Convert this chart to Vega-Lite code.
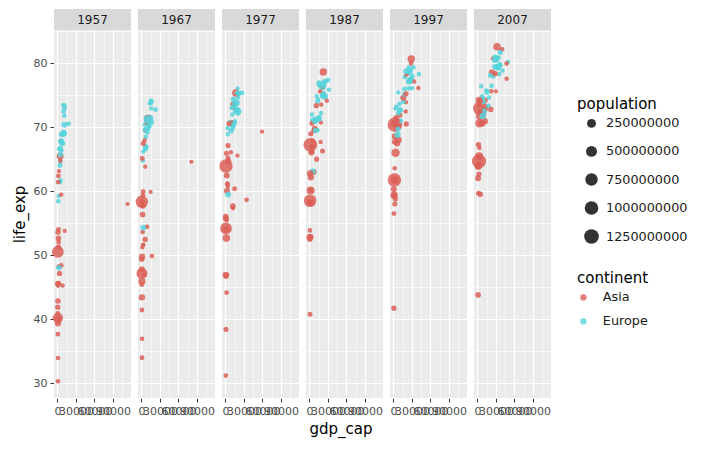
{
"$schema": "https://vega.github.io/schema/vega-lite/v6.json",
"background": "white",
"padding": {"left": 12, "top": 9, "right": 5, "bottom": 5},
"bounds": "flush",
"title": {"text": "gdp_cap", "orient": "bottom", "anchor": "middle", "fontSize": 15, "fontWeight": "normal", "color": "#000000", "offset": 6, "dx": -9},
"config": {
  "font": "DejaVu Sans",
  "view": {"fill": "#EBEBEB", "stroke": null},
  "axis": {"domain": false, "tickColor": "#333333", "tickSize": 4, "tickWidth": 1, "labelColor": "#4D4D4D", "labelFontSize": 11, "labelPadding": 3, "titleFontSize": 15, "titleFontWeight": "normal", "titleColor": "#000000", "gridColor": "#FFFFFF"},
  "legend": {"titleFontSize": 15, "titleFontWeight": "normal", "titleColor": "#000000", "labelFontSize": 12.8, "labelColor": "#1A1A1A"}
},
"data": {"values": [
{"year":1957,"continent":"Asia","life_exp":30.33,"gdp_cap":821,"population":9240934},
{"year":1967,"continent":"Asia","life_exp":34.02,"gdp_cap":836,"population":11537966},
{"year":1977,"continent":"Asia","life_exp":38.44,"gdp_cap":786,"population":14880372},
{"year":1987,"continent":"Asia","life_exp":40.82,"gdp_cap":852,"population":13867957},
{"year":1997,"continent":"Asia","life_exp":41.76,"gdp_cap":635,"population":22227415},
{"year":2007,"continent":"Asia","life_exp":43.83,"gdp_cap":975,"population":31889923},
{"year":1957,"continent":"Europe","life_exp":59.28,"gdp_cap":1942,"population":1476505},
{"year":1967,"continent":"Europe","life_exp":66.22,"gdp_cap":2760,"population":1984060},
{"year":1977,"continent":"Europe","life_exp":68.93,"gdp_cap":3533,"population":2509048},
{"year":1987,"continent":"Europe","life_exp":72.0,"gdp_cap":3739,"population":3075321},
{"year":1997,"continent":"Europe","life_exp":72.95,"gdp_cap":3193,"population":3428038},
{"year":2007,"continent":"Europe","life_exp":76.42,"gdp_cap":5937,"population":3600523},
{"year":1957,"continent":"Europe","life_exp":67.48,"gdp_cap":8843,"population":6965860},
{"year":1967,"continent":"Europe","life_exp":70.14,"gdp_cap":12835,"population":7376998},
{"year":1977,"continent":"Europe","life_exp":72.17,"gdp_cap":19749,"population":7568430},
{"year":1987,"continent":"Europe","life_exp":74.94,"gdp_cap":23688,"population":7578903},
{"year":1997,"continent":"Europe","life_exp":77.51,"gdp_cap":29096,"population":8069876},
{"year":2007,"continent":"Europe","life_exp":79.83,"gdp_cap":36126,"population":8199783},
{"year":1957,"continent":"Asia","life_exp":53.83,"gdp_cap":11636,"population":138655},
{"year":1967,"continent":"Asia","life_exp":59.92,"gdp_cap":14805,"population":191540},
{"year":1977,"continent":"Asia","life_exp":65.59,"gdp_cap":19340,"population":297410},
{"year":1987,"continent":"Asia","life_exp":70.75,"gdp_cap":18524,"population":454612},
{"year":1997,"continent":"Asia","life_exp":73.93,"gdp_cap":20292,"population":598561},
{"year":2007,"continent":"Asia","life_exp":75.64,"gdp_cap":29796,"population":708573},
{"year":1957,"continent":"Asia","life_exp":39.35,"gdp_cap":662,"population":51365468},
{"year":1967,"continent":"Asia","life_exp":43.45,"gdp_cap":721,"population":62821884},
{"year":1977,"continent":"Asia","life_exp":46.92,"gdp_cap":660,"population":80428306},
{"year":1987,"continent":"Asia","life_exp":52.82,"gdp_cap":752,"population":103764241},
{"year":1997,"continent":"Asia","life_exp":59.41,"gdp_cap":973,"population":123315288},
{"year":2007,"continent":"Asia","life_exp":64.06,"gdp_cap":1391,"population":150448339},
{"year":1957,"continent":"Europe","life_exp":69.24,"gdp_cap":9715,"population":8989111},
{"year":1967,"continent":"Europe","life_exp":70.94,"gdp_cap":13149,"population":9556500},
{"year":1977,"continent":"Europe","life_exp":72.8,"gdp_cap":19118,"population":9821800},
{"year":1987,"continent":"Europe","life_exp":75.35,"gdp_cap":22526,"population":9870200},
{"year":1997,"continent":"Europe","life_exp":77.53,"gdp_cap":27561,"population":10199787},
{"year":2007,"continent":"Europe","life_exp":79.44,"gdp_cap":33693,"population":10392226},
{"year":1957,"continent":"Europe","life_exp":58.45,"gdp_cap":1354,"population":3076000},
{"year":1967,"continent":"Europe","life_exp":64.79,"gdp_cap":2172,"population":3585000},
{"year":1977,"continent":"Europe","life_exp":69.86,"gdp_cap":3528,"population":4086000},
{"year":1987,"continent":"Europe","life_exp":71.14,"gdp_cap":4314,"population":4338977},
{"year":1997,"continent":"Europe","life_exp":73.24,"gdp_cap":4766,"population":3607000},
{"year":2007,"continent":"Europe","life_exp":74.85,"gdp_cap":7446,"population":4552198},
{"year":1957,"continent":"Europe","life_exp":66.61,"gdp_cap":3009,"population":7651254},
{"year":1967,"continent":"Europe","life_exp":70.42,"gdp_cap":5577,"population":8310226},
{"year":1977,"continent":"Europe","life_exp":70.81,"gdp_cap":7612,"population":8797022},
{"year":1987,"continent":"Europe","life_exp":71.34,"gdp_cap":8240,"population":8971958},
{"year":1997,"continent":"Europe","life_exp":70.32,"gdp_cap":5970,"population":8066057},
{"year":2007,"continent":"Europe","life_exp":73.01,"gdp_cap":10681,"population":7322858},
{"year":1957,"continent":"Asia","life_exp":40.96,"gdp_cap":434,"population":5322536},
{"year":1967,"continent":"Asia","life_exp":45.42,"gdp_cap":523,"population":6960067},
{"year":1977,"continent":"Asia","life_exp":31.22,"gdp_cap":525,"population":6978607},
{"year":1987,"continent":"Asia","life_exp":53.91,"gdp_cap":684,"population":8371791},
{"year":1997,"continent":"Asia","life_exp":56.53,"gdp_cap":734,"population":11782962},
{"year":2007,"continent":"Asia","life_exp":59.72,"gdp_cap":1714,"population":14131858},
{"year":1957,"continent":"Asia","life_exp":50.55,"gdp_cap":576,"population":637408000},
{"year":1967,"continent":"Asia","life_exp":58.38,"gdp_cap":613,"population":754550000},
{"year":1977,"continent":"Asia","life_exp":63.97,"gdp_cap":741,"population":943455000},
{"year":1987,"continent":"Asia","life_exp":67.27,"gdp_cap":1379,"population":1084035000},
{"year":1997,"continent":"Asia","life_exp":70.43,"gdp_cap":2289,"population":1230075000},
{"year":2007,"continent":"Asia","life_exp":72.96,"gdp_cap":4959,"population":1318683096},
{"year":1957,"continent":"Europe","life_exp":64.77,"gdp_cap":4338,"population":3991242},
{"year":1967,"continent":"Europe","life_exp":68.5,"gdp_cap":6960,"population":4174366},
{"year":1977,"continent":"Europe","life_exp":70.64,"gdp_cap":11305,"population":4318673},
{"year":1987,"continent":"Europe","life_exp":71.52,"gdp_cap":13823,"population":4484310},
{"year":1997,"continent":"Europe","life_exp":73.68,"gdp_cap":9876,"population":4444595},
{"year":2007,"continent":"Europe","life_exp":75.75,"gdp_cap":14619,"population":4493312},
{"year":1957,"continent":"Europe","life_exp":69.03,"gdp_cap":8256,"population":9513758},
{"year":1967,"continent":"Europe","life_exp":70.38,"gdp_cap":11399,"population":9835109},
{"year":1977,"continent":"Europe","life_exp":70.71,"gdp_cap":14800,"population":10161915},
{"year":1987,"continent":"Europe","life_exp":71.58,"gdp_cap":16310,"population":10311597},
{"year":1997,"continent":"Europe","life_exp":74.01,"gdp_cap":16049,"population":10300707},
{"year":2007,"continent":"Europe","life_exp":76.49,"gdp_cap":22833,"population":10228744},
{"year":1957,"continent":"Europe","life_exp":71.81,"gdp_cap":11100,"population":4487831},
{"year":1967,"continent":"Europe","life_exp":72.96,"gdp_cap":15937,"population":4838800},
{"year":1977,"continent":"Europe","life_exp":74.69,"gdp_cap":20423,"population":5088419},
{"year":1987,"continent":"Europe","life_exp":74.8,"gdp_cap":25116,"population":5127024},
{"year":1997,"continent":"Europe","life_exp":76.11,"gdp_cap":29804,"population":5283663},
{"year":2007,"continent":"Europe","life_exp":78.33,"gdp_cap":35278,"population":5468120},
{"year":1957,"continent":"Europe","life_exp":67.49,"gdp_cap":7545,"population":4324000},
{"year":1967,"continent":"Europe","life_exp":69.83,"gdp_cap":10922,"population":4605744},
{"year":1977,"continent":"Europe","life_exp":72.52,"gdp_cap":15605,"population":4738902},
{"year":1987,"continent":"Europe","life_exp":74.83,"gdp_cap":21141,"population":4931729},
{"year":1997,"continent":"Europe","life_exp":77.13,"gdp_cap":23724,"population":5134406},
{"year":2007,"continent":"Europe","life_exp":79.31,"gdp_cap":33207,"population":5238460},
{"year":1957,"continent":"Europe","life_exp":68.93,"gdp_cap":8663,"population":44310863},
{"year":1967,"continent":"Europe","life_exp":71.55,"gdp_cap":13000,"population":49937038},
{"year":1977,"continent":"Europe","life_exp":73.83,"gdp_cap":18293,"population":53165019},
{"year":1987,"continent":"Europe","life_exp":76.34,"gdp_cap":22066,"population":55630100},
{"year":1997,"continent":"Europe","life_exp":78.64,"gdp_cap":25890,"population":58623428},
{"year":2007,"continent":"Europe","life_exp":80.66,"gdp_cap":30470,"population":61083916},
{"year":1957,"continent":"Europe","life_exp":69.1,"gdp_cap":10188,"population":71019069},
{"year":1967,"continent":"Europe","life_exp":70.8,"gdp_cap":14746,"population":76368453},
{"year":1977,"continent":"Europe","life_exp":72.5,"gdp_cap":20513,"population":78160773},
{"year":1987,"continent":"Europe","life_exp":74.85,"gdp_cap":24639,"population":77718298},
{"year":1997,"continent":"Europe","life_exp":77.34,"gdp_cap":27789,"population":82011073},
{"year":2007,"continent":"Europe","life_exp":79.41,"gdp_cap":32170,"population":82400996},
{"year":1957,"continent":"Europe","life_exp":67.86,"gdp_cap":4916,"population":8096218},
{"year":1967,"continent":"Europe","life_exp":71.0,"gdp_cap":8513,"population":8716441},
{"year":1977,"continent":"Europe","life_exp":73.68,"gdp_cap":14196,"population":9308479},
{"year":1987,"continent":"Europe","life_exp":76.67,"gdp_cap":16121,"population":9974490},
{"year":1997,"continent":"Europe","life_exp":77.87,"gdp_cap":18748,"population":10502372},
{"year":2007,"continent":"Europe","life_exp":79.48,"gdp_cap":27538,"population":10706290},
{"year":1957,"continent":"Asia","life_exp":64.75,"gdp_cap":4629,"population":2736300},
{"year":1967,"continent":"Asia","life_exp":69.5,"gdp_cap":6198,"population":3722800},
{"year":1977,"continent":"Asia","life_exp":73.6,"gdp_cap":11186,"population":4583700},
{"year":1987,"continent":"Asia","life_exp":76.2,"gdp_cap":20038,"population":5584510},
{"year":1997,"continent":"Asia","life_exp":80.0,"gdp_cap":28378,"population":6495918},
{"year":2007,"continent":"Asia","life_exp":82.21,"gdp_cap":39725,"population":6980412},
{"year":1957,"continent":"Europe","life_exp":66.41,"gdp_cap":6040,"population":9839000},
{"year":1967,"continent":"Europe","life_exp":69.5,"gdp_cap":9327,"population":10223422},
{"year":1977,"continent":"Europe","life_exp":69.95,"gdp_cap":11675,"population":10637171},
{"year":1987,"continent":"Europe","life_exp":69.58,"gdp_cap":12986,"population":10612740},
{"year":1997,"continent":"Europe","life_exp":71.04,"gdp_cap":11713,"population":10244684},
{"year":2007,"continent":"Europe","life_exp":73.34,"gdp_cap":18009,"population":9956108},
{"year":1957,"continent":"Europe","life_exp":73.47,"gdp_cap":9244,"population":165110},
{"year":1967,"continent":"Europe","life_exp":73.73,"gdp_cap":13320,"population":198676},
{"year":1977,"continent":"Europe","life_exp":76.11,"gdp_cap":19655,"population":221823},
{"year":1987,"continent":"Europe","life_exp":77.23,"gdp_cap":26923,"population":244676},
{"year":1997,"continent":"Europe","life_exp":78.95,"gdp_cap":28061,"population":271192},
{"year":2007,"continent":"Europe","life_exp":81.76,"gdp_cap":36181,"population":301931},
{"year":1957,"continent":"Asia","life_exp":40.25,"gdp_cap":590,"population":409000000},
{"year":1967,"continent":"Asia","life_exp":47.19,"gdp_cap":701,"population":506000000},
{"year":1977,"continent":"Asia","life_exp":54.21,"gdp_cap":813,"population":634000000},
{"year":1987,"continent":"Asia","life_exp":58.55,"gdp_cap":977,"population":788000000},
{"year":1997,"continent":"Asia","life_exp":61.77,"gdp_cap":1459,"population":959000000},
{"year":2007,"continent":"Asia","life_exp":64.7,"gdp_cap":2452,"population":1110396331},
{"year":1957,"continent":"Asia","life_exp":39.92,"gdp_cap":859,"population":90124000},
{"year":1967,"continent":"Asia","life_exp":45.96,"gdp_cap":762,"population":109343000},
{"year":1977,"continent":"Asia","life_exp":52.7,"gdp_cap":1383,"population":136725000},
{"year":1987,"continent":"Asia","life_exp":60.14,"gdp_cap":1748,"population":169276000},
{"year":1997,"continent":"Asia","life_exp":66.04,"gdp_cap":3339,"population":199278000},
{"year":2007,"continent":"Asia","life_exp":70.65,"gdp_cap":3541,"population":223547000},
{"year":1957,"continent":"Asia","life_exp":47.18,"gdp_cap":3290,"population":19792000},
{"year":1967,"continent":"Asia","life_exp":52.47,"gdp_cap":5907,"population":26538000},
{"year":1977,"continent":"Asia","life_exp":57.7,"gdp_cap":11889,"population":35480679},
{"year":1987,"continent":"Asia","life_exp":63.04,"gdp_cap":6643,"population":51889696},
{"year":1997,"continent":"Asia","life_exp":68.04,"gdp_cap":8264,"population":63327987},
{"year":2007,"continent":"Asia","life_exp":70.96,"gdp_cap":11606,"population":69453570},
{"year":1957,"continent":"Asia","life_exp":48.44,"gdp_cap":6229,"population":6248643},
{"year":1967,"continent":"Asia","life_exp":54.46,"gdp_cap":8931,"population":8519282},
{"year":1977,"continent":"Asia","life_exp":60.41,"gdp_cap":14688,"population":11882916},
{"year":1987,"continent":"Asia","life_exp":65.04,"gdp_cap":11644,"population":16543189},
{"year":1997,"continent":"Asia","life_exp":58.81,"gdp_cap":3076,"population":20775703},
{"year":2007,"continent":"Asia","life_exp":59.55,"gdp_cap":4471,"population":27499638},
{"year":1957,"continent":"Europe","life_exp":68.9,"gdp_cap":5599,"population":2878220},
{"year":1967,"continent":"Europe","life_exp":71.08,"gdp_cap":7656,"population":2900100},
{"year":1977,"continent":"Europe","life_exp":72.03,"gdp_cap":11151,"population":3271900},
{"year":1987,"continent":"Europe","life_exp":74.36,"gdp_cap":13873,"population":3539900},
{"year":1997,"continent":"Europe","life_exp":76.12,"gdp_cap":24522,"population":3667233},
{"year":2007,"continent":"Europe","life_exp":78.89,"gdp_cap":40676,"population":4109086},
{"year":1957,"continent":"Asia","life_exp":67.84,"gdp_cap":5385,"population":1944401},
{"year":1967,"continent":"Asia","life_exp":70.75,"gdp_cap":8394,"population":2693585},
{"year":1977,"continent":"Asia","life_exp":73.06,"gdp_cap":13307,"population":3495918},
{"year":1987,"continent":"Asia","life_exp":75.6,"gdp_cap":17122,"population":4203148},
{"year":1997,"continent":"Asia","life_exp":78.27,"gdp_cap":20897,"population":5531387},
{"year":2007,"continent":"Asia","life_exp":80.75,"gdp_cap":25523,"population":6426679},
{"year":1957,"continent":"Europe","life_exp":67.81,"gdp_cap":6249,"population":49182000},
{"year":1967,"continent":"Europe","life_exp":71.06,"gdp_cap":10022,"population":52667100},
{"year":1977,"continent":"Europe","life_exp":73.48,"gdp_cap":14256,"population":56059245},
{"year":1987,"continent":"Europe","life_exp":76.42,"gdp_cap":19207,"population":56729703},
{"year":1997,"continent":"Europe","life_exp":78.82,"gdp_cap":24675,"population":57479469},
{"year":2007,"continent":"Europe","life_exp":80.55,"gdp_cap":28570,"population":58147733},
{"year":1957,"continent":"Asia","life_exp":65.5,"gdp_cap":4318,"population":91563009},
{"year":1967,"continent":"Asia","life_exp":71.43,"gdp_cap":9848,"population":100825279},
{"year":1977,"continent":"Asia","life_exp":75.38,"gdp_cap":16610,"population":113872473},
{"year":1987,"continent":"Asia","life_exp":78.67,"gdp_cap":22376,"population":122091325},
{"year":1997,"continent":"Asia","life_exp":80.69,"gdp_cap":28817,"population":125956499},
{"year":2007,"continent":"Asia","life_exp":82.6,"gdp_cap":31656,"population":127467972},
{"year":1957,"continent":"Asia","life_exp":45.67,"gdp_cap":1886,"population":746559},
{"year":1967,"continent":"Asia","life_exp":51.63,"gdp_cap":2742,"population":1255058},
{"year":1977,"continent":"Asia","life_exp":61.13,"gdp_cap":2852,"population":1937652},
{"year":1987,"continent":"Asia","life_exp":66.24,"gdp_cap":4449,"population":2820042},
{"year":1997,"continent":"Asia","life_exp":69.77,"gdp_cap":3645,"population":4526235},
{"year":2007,"continent":"Asia","life_exp":72.54,"gdp_cap":4519,"population":6053193},
{"year":1957,"continent":"Asia","life_exp":54.08,"gdp_cap":1576,"population":9411381},
{"year":1967,"continent":"Asia","life_exp":59.94,"gdp_cap":2621,"population":12617009},
{"year":1977,"continent":"Asia","life_exp":67.16,"gdp_cap":4106,"population":16325320},
{"year":1987,"continent":"Asia","life_exp":70.65,"gdp_cap":4107,"population":19067554},
{"year":1997,"continent":"Asia","life_exp":67.73,"gdp_cap":1691,"population":21585105},
{"year":2007,"continent":"Asia","life_exp":67.3,"gdp_cap":1593,"population":23301725},
{"year":1957,"continent":"Asia","life_exp":52.68,"gdp_cap":1488,"population":22611552},
{"year":1967,"continent":"Asia","life_exp":57.72,"gdp_cap":2029,"population":29335000},
{"year":1977,"continent":"Asia","life_exp":64.77,"gdp_cap":4657,"population":36436000},
{"year":1987,"continent":"Asia","life_exp":69.81,"gdp_cap":8533,"population":41622000},
{"year":1997,"continent":"Asia","life_exp":74.65,"gdp_cap":15994,"population":46173816},
{"year":2007,"continent":"Asia","life_exp":78.62,"gdp_cap":23348,"population":49044790},
{"year":1957,"continent":"Asia","life_exp":58.03,"gdp_cap":113523,"population":212846},
{"year":1967,"continent":"Asia","life_exp":64.62,"gdp_cap":80895,"population":575003},
{"year":1977,"continent":"Asia","life_exp":69.34,"gdp_cap":59265,"population":1140357},
{"year":1987,"continent":"Asia","life_exp":74.17,"gdp_cap":28118,"population":1891487},
{"year":1997,"continent":"Asia","life_exp":76.16,"gdp_cap":40301,"population":1765345},
{"year":2007,"continent":"Asia","life_exp":77.59,"gdp_cap":47307,"population":2505559},
{"year":1957,"continent":"Asia","life_exp":59.49,"gdp_cap":6090,"population":1647412},
{"year":1967,"continent":"Asia","life_exp":63.87,"gdp_cap":6007,"population":2186894},
{"year":1977,"continent":"Asia","life_exp":66.1,"gdp_cap":8660,"population":3115787},
{"year":1987,"continent":"Asia","life_exp":67.93,"gdp_cap":5377,"population":3089353},
{"year":1997,"continent":"Asia","life_exp":70.27,"gdp_cap":8755,"population":3430388},
{"year":2007,"continent":"Asia","life_exp":71.99,"gdp_cap":10461,"population":3921278},
{"year":1957,"continent":"Asia","life_exp":52.1,"gdp_cap":1810,"population":7739235},
{"year":1967,"continent":"Asia","life_exp":59.37,"gdp_cap":2278,"population":10154878},
{"year":1977,"continent":"Asia","life_exp":65.26,"gdp_cap":3828,"population":12845381},
{"year":1987,"continent":"Asia","life_exp":69.5,"gdp_cap":7299,"population":16331785},
{"year":1997,"continent":"Asia","life_exp":71.94,"gdp_cap":10133,"population":21517880},
{"year":2007,"continent":"Asia","life_exp":74.24,"gdp_cap":12452,"population":24821286},
{"year":1957,"continent":"Asia","life_exp":45.25,"gdp_cap":913,"population":882134},
{"year":1967,"continent":"Asia","life_exp":51.25,"gdp_cap":1226,"population":1149500},
{"year":1977,"continent":"Asia","life_exp":55.49,"gdp_cap":1648,"population":1528000},
{"year":1987,"continent":"Asia","life_exp":60.22,"gdp_cap":2338,"population":2015133},
{"year":1997,"continent":"Asia","life_exp":63.63,"gdp_cap":1902,"population":2494803},
{"year":2007,"continent":"Asia","life_exp":66.8,"gdp_cap":3096,"population":2874127},
{"year":1957,"continent":"Europe","life_exp":61.45,"gdp_cap":3682,"population":442829},
{"year":1967,"continent":"Europe","life_exp":67.18,"gdp_cap":5908,"population":501035},
{"year":1977,"continent":"Europe","life_exp":73.07,"gdp_cap":9596,"population":560073},
{"year":1987,"continent":"Europe","life_exp":74.87,"gdp_cap":11733,"population":607173},
{"year":1997,"continent":"Europe","life_exp":75.45,"gdp_cap":7778,"population":692651},
{"year":2007,"continent":"Europe","life_exp":74.54,"gdp_cap":9254,"population":684736},
{"year":1957,"continent":"Asia","life_exp":41.91,"gdp_cap":350,"population":21731844},
{"year":1967,"continent":"Asia","life_exp":49.38,"gdp_cap":349,"population":25870271},
{"year":1977,"continent":"Asia","life_exp":56.06,"gdp_cap":371,"population":31528087},
{"year":1987,"continent":"Asia","life_exp":58.34,"gdp_cap":385,"population":38028578},
{"year":1997,"continent":"Asia","life_exp":60.33,"gdp_cap":415,"population":43247867},
{"year":2007,"continent":"Asia","life_exp":62.07,"gdp_cap":944,"population":47761980},
{"year":1957,"continent":"Asia","life_exp":37.69,"gdp_cap":598,"population":9682338},
{"year":1967,"continent":"Asia","life_exp":41.47,"gdp_cap":676,"population":11261690},
{"year":1977,"continent":"Asia","life_exp":46.75,"gdp_cap":694,"population":13933198},
{"year":1987,"continent":"Asia","life_exp":52.54,"gdp_cap":776,"population":17917180},
{"year":1997,"continent":"Asia","life_exp":59.43,"gdp_cap":1011,"population":23001113},
{"year":2007,"continent":"Asia","life_exp":63.79,"gdp_cap":1091,"population":28901790},
{"year":1957,"continent":"Europe","life_exp":72.99,"gdp_cap":11276,"population":11026383},
{"year":1967,"continent":"Europe","life_exp":73.82,"gdp_cap":15363,"population":12596822},
{"year":1977,"continent":"Europe","life_exp":75.24,"gdp_cap":21209,"population":13852989},
{"year":1987,"continent":"Europe","life_exp":76.83,"gdp_cap":23651,"population":14665278},
{"year":1997,"continent":"Europe","life_exp":78.03,"gdp_cap":30246,"population":15604464},
{"year":2007,"continent":"Europe","life_exp":79.76,"gdp_cap":36798,"population":16570613},
{"year":1957,"continent":"Europe","life_exp":73.44,"gdp_cap":11654,"population":3491938},
{"year":1967,"continent":"Europe","life_exp":74.08,"gdp_cap":16362,"population":3786019},
{"year":1977,"continent":"Europe","life_exp":75.37,"gdp_cap":23311,"population":4043205},
{"year":1987,"continent":"Europe","life_exp":75.89,"gdp_cap":31541,"population":4186147},
{"year":1997,"continent":"Europe","life_exp":78.32,"gdp_cap":41283,"population":4405672},
{"year":2007,"continent":"Europe","life_exp":80.2,"gdp_cap":49357,"population":4627926},
{"year":1957,"continent":"Asia","life_exp":40.08,"gdp_cap":2243,"population":561977},
{"year":1967,"continent":"Asia","life_exp":46.99,"gdp_cap":4721,"population":714775},
{"year":1977,"continent":"Asia","life_exp":57.37,"gdp_cap":12139,"population":1004533},
{"year":1987,"continent":"Asia","life_exp":67.73,"gdp_cap":18115,"population":1593882},
{"year":1997,"continent":"Asia","life_exp":72.5,"gdp_cap":19702,"population":2283635},
{"year":2007,"continent":"Asia","life_exp":75.64,"gdp_cap":22316,"population":3204897},
{"year":1957,"continent":"Asia","life_exp":45.56,"gdp_cap":747,"population":46679944},
{"year":1967,"continent":"Asia","life_exp":49.8,"gdp_cap":942,"population":60641899},
{"year":1977,"continent":"Asia","life_exp":54.04,"gdp_cap":1176,"population":78152686},
{"year":1987,"continent":"Asia","life_exp":58.25,"gdp_cap":1705,"population":105186881},
{"year":1997,"continent":"Asia","life_exp":61.82,"gdp_cap":2049,"population":135564834},
{"year":2007,"continent":"Asia","life_exp":65.48,"gdp_cap":2606,"population":169270617},
{"year":1957,"continent":"Asia","life_exp":51.33,"gdp_cap":1548,"population":26072194},
{"year":1967,"continent":"Asia","life_exp":56.39,"gdp_cap":1814,"population":35356600},
{"year":1977,"continent":"Asia","life_exp":60.06,"gdp_cap":2373,"population":46850962},
{"year":1987,"continent":"Asia","life_exp":62.21,"gdp_cap":2190,"population":60017788},
{"year":1997,"continent":"Asia","life_exp":68.56,"gdp_cap":2537,"population":75012988},
{"year":2007,"continent":"Asia","life_exp":71.69,"gdp_cap":3190,"population":91077287},
{"year":1957,"continent":"Europe","life_exp":65.77,"gdp_cap":4734,"population":28235346},
{"year":1967,"continent":"Europe","life_exp":69.61,"gdp_cap":6557,"population":31785378},
{"year":1977,"continent":"Europe","life_exp":70.67,"gdp_cap":9508,"population":34621254},
{"year":1987,"continent":"Europe","life_exp":70.98,"gdp_cap":9082,"population":37740710},
{"year":1997,"continent":"Europe","life_exp":72.75,"gdp_cap":10160,"population":38654957},
{"year":2007,"continent":"Europe","life_exp":75.56,"gdp_cap":15390,"population":38518241},
{"year":1957,"continent":"Europe","life_exp":61.51,"gdp_cap":3775,"population":8817650},
{"year":1967,"continent":"Europe","life_exp":66.6,"gdp_cap":6362,"population":9103000},
{"year":1977,"continent":"Europe","life_exp":70.41,"gdp_cap":10172,"population":9662600},
{"year":1987,"continent":"Europe","life_exp":74.06,"gdp_cap":13039,"population":9915289},
{"year":1997,"continent":"Europe","life_exp":75.97,"gdp_cap":17641,"population":10156415},
{"year":2007,"continent":"Europe","life_exp":78.1,"gdp_cap":20510,"population":10642836},
{"year":1957,"continent":"Europe","life_exp":64.1,"gdp_cap":3943,"population":17829327},
{"year":1967,"continent":"Europe","life_exp":66.8,"gdp_cap":6471,"population":19284814},
{"year":1977,"continent":"Europe","life_exp":69.46,"gdp_cap":9356,"population":21658597},
{"year":1987,"continent":"Europe","life_exp":69.53,"gdp_cap":9696,"population":22686371},
{"year":1997,"continent":"Europe","life_exp":69.72,"gdp_cap":7347,"population":22562458},
{"year":2007,"continent":"Europe","life_exp":72.48,"gdp_cap":10808,"population":22276056},
{"year":1957,"continent":"Asia","life_exp":45.29,"gdp_cap":8158,"population":4419650},
{"year":1967,"continent":"Asia","life_exp":49.9,"gdp_cap":16903,"population":5618198},
{"year":1977,"continent":"Asia","life_exp":58.69,"gdp_cap":34168,"population":8128505},
{"year":1987,"continent":"Asia","life_exp":66.3,"gdp_cap":21198,"population":14619745},
{"year":1997,"continent":"Asia","life_exp":70.53,"gdp_cap":20587,"population":21229759},
{"year":2007,"continent":"Asia","life_exp":72.78,"gdp_cap":21655,"population":27601038},
{"year":1957,"continent":"Europe","life_exp":61.69,"gdp_cap":4981,"population":7271135},
{"year":1967,"continent":"Europe","life_exp":66.91,"gdp_cap":7992,"population":8143375},
{"year":1977,"continent":"Europe","life_exp":70.3,"gdp_cap":12981,"population":8686367},
{"year":1987,"continent":"Europe","life_exp":71.22,"gdp_cap":15871,"population":9230783},
{"year":1997,"continent":"Europe","life_exp":72.23,"gdp_cap":7914,"population":10336594},
{"year":2007,"continent":"Europe","life_exp":74.0,"gdp_cap":9787,"population":10150265},
{"year":1957,"continent":"Asia","life_exp":63.18,"gdp_cap":2315,"population":1445929},
{"year":1967,"continent":"Asia","life_exp":67.95,"gdp_cap":4977,"population":1977600},
{"year":1977,"continent":"Asia","life_exp":70.8,"gdp_cap":11210,"population":2325300},
{"year":1987,"continent":"Asia","life_exp":73.56,"gdp_cap":18862,"population":2794552},
{"year":1997,"continent":"Asia","life_exp":77.16,"gdp_cap":33519,"population":3802309},
{"year":2007,"continent":"Asia","life_exp":79.97,"gdp_cap":47143,"population":4553009},
{"year":1957,"continent":"Europe","life_exp":67.45,"gdp_cap":6093,"population":3844277},
{"year":1967,"continent":"Europe","life_exp":70.98,"gdp_cap":8413,"population":4442238},
{"year":1977,"continent":"Europe","life_exp":70.45,"gdp_cap":10923,"population":4827803},
{"year":1987,"continent":"Europe","life_exp":71.08,"gdp_cap":12037,"population":5199318},
{"year":1997,"continent":"Europe","life_exp":72.71,"gdp_cap":12126,"population":5383010},
{"year":2007,"continent":"Europe","life_exp":74.66,"gdp_cap":18678,"population":5447502},
{"year":1957,"continent":"Europe","life_exp":67.85,"gdp_cap":5862,"population":1533070},
{"year":1967,"continent":"Europe","life_exp":69.18,"gdp_cap":9405,"population":1646912},
{"year":1977,"continent":"Europe","life_exp":70.97,"gdp_cap":15277,"population":1746919},
{"year":1987,"continent":"Europe","life_exp":72.25,"gdp_cap":18679,"population":1945870},
{"year":1997,"continent":"Europe","life_exp":75.13,"gdp_cap":17161,"population":2011612},
{"year":2007,"continent":"Europe","life_exp":77.93,"gdp_cap":25768,"population":2009245},
{"year":1957,"continent":"Europe","life_exp":66.66,"gdp_cap":4565,"population":29841614},
{"year":1967,"continent":"Europe","life_exp":71.44,"gdp_cap":7994,"population":32850275},
{"year":1977,"continent":"Europe","life_exp":74.39,"gdp_cap":13237,"population":36439000},
{"year":1987,"continent":"Europe","life_exp":76.9,"gdp_cap":15765,"population":38880702},
{"year":1997,"continent":"Europe","life_exp":78.77,"gdp_cap":20445,"population":39855442},
{"year":2007,"continent":"Europe","life_exp":80.94,"gdp_cap":28821,"population":40448191},
{"year":1957,"continent":"Asia","life_exp":61.46,"gdp_cap":1073,"population":9128546},
{"year":1967,"continent":"Asia","life_exp":65.15,"gdp_cap":1136,"population":11737396},
{"year":1977,"continent":"Asia","life_exp":65.95,"gdp_cap":1349,"population":14116836},
{"year":1987,"continent":"Asia","life_exp":69.01,"gdp_cap":2154,"population":16495304},
{"year":1997,"continent":"Asia","life_exp":70.46,"gdp_cap":2664,"population":18698655},
{"year":2007,"continent":"Asia","life_exp":72.4,"gdp_cap":3970,"population":20378239},
{"year":1957,"continent":"Europe","life_exp":72.49,"gdp_cap":9912,"population":7363802},
{"year":1967,"continent":"Europe","life_exp":74.16,"gdp_cap":15258,"population":7867931},
{"year":1977,"continent":"Europe","life_exp":75.44,"gdp_cap":18856,"population":8251648},
{"year":1987,"continent":"Europe","life_exp":77.19,"gdp_cap":23587,"population":8421403},
{"year":1997,"continent":"Europe","life_exp":79.39,"gdp_cap":25267,"population":8897619},
{"year":2007,"continent":"Europe","life_exp":80.88,"gdp_cap":33860,"population":9031088},
{"year":1957,"continent":"Europe","life_exp":70.56,"gdp_cap":17909,"population":5126000},
{"year":1967,"continent":"Europe","life_exp":72.77,"gdp_cap":22966,"population":6063000},
{"year":1977,"continent":"Europe","life_exp":75.39,"gdp_cap":26982,"population":6316424},
{"year":1987,"continent":"Europe","life_exp":77.41,"gdp_cap":30282,"population":6649942},
{"year":1997,"continent":"Europe","life_exp":79.37,"gdp_cap":32135,"population":7193761},
{"year":2007,"continent":"Europe","life_exp":81.7,"gdp_cap":37506,"population":7554661},
{"year":1957,"continent":"Asia","life_exp":48.28,"gdp_cap":1842,"population":4149908},
{"year":1967,"continent":"Asia","life_exp":53.66,"gdp_cap":1882,"population":5680812},
{"year":1977,"continent":"Asia","life_exp":61.2,"gdp_cap":3195,"population":7932503},
{"year":1987,"continent":"Asia","life_exp":66.97,"gdp_cap":3117,"population":11242847},
{"year":1997,"continent":"Asia","life_exp":71.53,"gdp_cap":4014,"population":15081016},
{"year":2007,"continent":"Asia","life_exp":74.14,"gdp_cap":4185,"population":19314747},
{"year":1957,"continent":"Asia","life_exp":62.4,"gdp_cap":1547,"population":10164215},
{"year":1967,"continent":"Asia","life_exp":67.5,"gdp_cap":2644,"population":13648692},
{"year":1977,"continent":"Asia","life_exp":70.59,"gdp_cap":5597,"population":16785196},
{"year":1987,"continent":"Asia","life_exp":73.4,"gdp_cap":11055,"population":19757799},
{"year":1997,"continent":"Asia","life_exp":75.25,"gdp_cap":20207,"population":21628605},
{"year":2007,"continent":"Asia","life_exp":78.4,"gdp_cap":28718,"population":23174294},
{"year":1957,"continent":"Asia","life_exp":53.63,"gdp_cap":794,"population":25041917},
{"year":1967,"continent":"Asia","life_exp":58.29,"gdp_cap":1295,"population":32850275},
{"year":1977,"continent":"Asia","life_exp":62.49,"gdp_cap":1961,"population":44148285},
{"year":1987,"continent":"Asia","life_exp":66.08,"gdp_cap":2983,"population":52910342},
{"year":1997,"continent":"Asia","life_exp":67.52,"gdp_cap":5853,"population":60216677},
{"year":2007,"continent":"Asia","life_exp":70.62,"gdp_cap":7458,"population":65068149},
{"year":1957,"continent":"Europe","life_exp":48.08,"gdp_cap":2219,"population":25670939},
{"year":1967,"continent":"Europe","life_exp":54.34,"gdp_cap":2826,"population":33411317},
{"year":1977,"continent":"Europe","life_exp":59.51,"gdp_cap":4269,"population":42404033},
{"year":1987,"continent":"Europe","life_exp":63.11,"gdp_cap":5089,"population":52881328},
{"year":1997,"continent":"Europe","life_exp":68.84,"gdp_cap":6601,"population":63047647},
{"year":2007,"continent":"Europe","life_exp":71.78,"gdp_cap":8458,"population":71158647},
{"year":1957,"continent":"Europe","life_exp":70.42,"gdp_cap":11283,"population":51430000},
{"year":1967,"continent":"Europe","life_exp":71.36,"gdp_cap":14143,"population":54959000},
{"year":1977,"continent":"Europe","life_exp":72.76,"gdp_cap":17429,"population":56179000},
{"year":1987,"continent":"Europe","life_exp":75.01,"gdp_cap":21665,"population":56981620},
{"year":1997,"continent":"Europe","life_exp":77.22,"gdp_cap":26075,"population":58808266},
{"year":2007,"continent":"Europe","life_exp":79.43,"gdp_cap":33203,"population":60776238},
{"year":1957,"continent":"Asia","life_exp":42.89,"gdp_cap":676,"population":28998543},
{"year":1967,"continent":"Asia","life_exp":47.84,"gdp_cap":637,"population":39463910},
{"year":1977,"continent":"Asia","life_exp":55.76,"gdp_cap":714,"population":50533506},
{"year":1987,"continent":"Asia","life_exp":62.82,"gdp_cap":821,"population":62826491},
{"year":1997,"continent":"Asia","life_exp":70.67,"gdp_cap":1386,"population":76048996},
{"year":2007,"continent":"Asia","life_exp":74.25,"gdp_cap":2442,"population":85262356},
{"year":1957,"continent":"Asia","life_exp":45.67,"gdp_cap":1827,"population":1070439},
{"year":1967,"continent":"Asia","life_exp":51.63,"gdp_cap":2650,"population":1142636},
{"year":1977,"continent":"Asia","life_exp":60.77,"gdp_cap":3683,"population":1261091},
{"year":1987,"continent":"Asia","life_exp":67.05,"gdp_cap":5352,"population":1691210},
{"year":1997,"continent":"Asia","life_exp":71.1,"gdp_cap":7111,"population":2826046},
{"year":2007,"continent":"Asia","life_exp":73.42,"gdp_cap":3025,"population":4018332},
{"year":1957,"continent":"Asia","life_exp":33.97,"gdp_cap":805,"population":5498090},
{"year":1967,"continent":"Asia","life_exp":36.98,"gdp_cap":862,"population":6740785},
{"year":1977,"continent":"Asia","life_exp":44.18,"gdp_cap":1830,"population":8403990},
{"year":1987,"continent":"Asia","life_exp":52.92,"gdp_cap":1972,"population":11219340},
{"year":1997,"continent":"Asia","life_exp":58.02,"gdp_cap":2117,"population":15826497},
{"year":2007,"continent":"Asia","life_exp":62.7,"gdp_cap":2281,"population":22211743}
]},
"facet": {"column": {"field": "year", "type": "ordinal", "header": {"title": null, "labels": false}}},
"spacing": {"column": 7},
"spec": {
  "width": 77,
  "height": 389,
  "layer": [
    {
      "mark": {"type": "circle", "opacity": 0.85, "strokeWidth": 0},
      "encoding": {
        "x": {"field": "gdp_cap", "type": "quantitative", "title": null,
          "scale": {"domain": [-5676, 119199], "nice": false, "zero": false},
          "axis": {"values": [0, 15000, 30000, 45000, 60000, 75000, 90000, 105000], "format": "d",
            "labelExpr": "abs(datum.value / 30000 - round(datum.value / 30000)) < 0.01 ? datum.label : ''",
            "labelOverlap": false, "labelFlush": false, "labelBound": false,
            "gridWidth": {"condition": {"test": "abs(datum.value / 30000 - round(datum.value / 30000)) > 0.01", "value": 0.6}, "value": 1.2},
            "tickOpacity": {"condition": {"test": "abs(datum.value / 30000 - round(datum.value / 30000)) > 0.01", "value": 0}, "value": 1}}},
        "y": {"field": "life_exp", "type": "quantitative", "title": "life_exp",
          "scale": {"domain": [27.72, 88.5], "nice": false, "zero": false},
          "axis": {"values": [30, 35, 40, 45, 50, 55, 60, 65, 70, 75, 80, 85],
            "labelExpr": "abs(datum.value / 10 - round(datum.value / 10)) < 0.01 && datum.value < 84 ? datum.label : ''",
            "gridWidth": {"condition": {"test": "abs(datum.value / 10 - round(datum.value / 10)) > 0.01", "value": 0.6}, "value": 1.2},
            "tickOpacity": {"condition": {"test": "abs(datum.value / 10 - round(datum.value / 10)) > 0.01 || datum.value > 84", "value": 0}, "value": 1},
            "titlePadding": 6, "titleY": 205}},
        "size": {"field": "population", "type": "quantitative",
          "scale": {"type": "pow", "exponent": 0.72, "domain": [138655, 1318683096], "range": [17.7, 222]},
          "legend": {"title": "population", "values": [250000000, 500000000, 750000000, 1000000000, 1250000000], "format": "d",
            "symbolFillColor": "#333333", "symbolStrokeWidth": 0, "symbolOpacity": 1, "rowPadding": 14,
            "symbolOffset": 7, "labelOffset": 7,
            "orient": "none", "legendX": 523, "legendY": 88}},
        "color": {"field": "continent", "type": "nominal",
          "scale": {"domain": ["Asia", "Europe"], "range": ["#DB5F57", "#57D3DB"]},
          "legend": {"title": "continent", "symbolSize": 40, "symbolOpacity": 0.8, "rowPadding": 10,
            "labelOffset": 13,
            "orient": "none", "legendX": 523, "legendY": 262}}
      }
    },
    {
      "transform": [{"aggregate": [{"op": "count", "as": "n"}], "groupby": ["year"]}],
      "mark": {"type": "rect", "color": "#D9D9D9"},
      "encoding": {
        "x": {"datum": -5676, "type": "quantitative", "title": null,
          "axis": {"values": [0, 15000, 30000, 45000, 60000, 75000, 90000, 105000], "format": "d",
            "labelExpr": "abs(datum.value / 30000 - round(datum.value / 30000)) < 0.01 ? datum.label : ''",
            "labelOverlap": false, "labelFlush": false, "labelBound": false,
            "gridWidth": {"condition": {"test": "abs(datum.value / 30000 - round(datum.value / 30000)) > 0.01", "value": 0.6}, "value": 1.2},
            "tickOpacity": {"condition": {"test": "abs(datum.value / 30000 - round(datum.value / 30000)) > 0.01", "value": 0}, "value": 1}}},
        "x2": {"datum": 119199},
        "y": {"datum": 85.21, "type": "quantitative", "title": "life_exp",
          "axis": {"values": [30, 35, 40, 45, 50, 55, 60, 65, 70, 75, 80, 85],
            "labelExpr": "abs(datum.value / 10 - round(datum.value / 10)) < 0.01 && datum.value < 84 ? datum.label : ''",
            "gridWidth": {"condition": {"test": "abs(datum.value / 10 - round(datum.value / 10)) > 0.01", "value": 0.6}, "value": 1.2},
            "tickOpacity": {"condition": {"test": "abs(datum.value / 10 - round(datum.value / 10)) > 0.01 || datum.value > 84", "value": 0}, "value": 1},
            "titlePadding": 6, "titleY": 205}},
        "y2": {"datum": 88.5}
      }
    },
    {
      "transform": [{"aggregate": [{"op": "count", "as": "n"}], "groupby": ["year"]}],
      "mark": {"type": "text", "fontSize": 12, "color": "#1A1A1A", "baseline": "middle", "align": "center"},
      "encoding": {
        "text": {"field": "year", "type": "nominal"},
        "x": {"datum": 56761, "type": "quantitative", "title": null,
          "axis": {"values": [0, 15000, 30000, 45000, 60000, 75000, 90000, 105000], "format": "d",
            "labelExpr": "abs(datum.value / 30000 - round(datum.value / 30000)) < 0.01 ? datum.label : ''",
            "labelOverlap": false, "labelFlush": false, "labelBound": false,
            "gridWidth": {"condition": {"test": "abs(datum.value / 30000 - round(datum.value / 30000)) > 0.01", "value": 0.6}, "value": 1.2},
            "tickOpacity": {"condition": {"test": "abs(datum.value / 30000 - round(datum.value / 30000)) > 0.01", "value": 0}, "value": 1}}},
        "y": {"datum": 86.85, "type": "quantitative", "title": "life_exp",
          "axis": {"values": [30, 35, 40, 45, 50, 55, 60, 65, 70, 75, 80, 85],
            "labelExpr": "abs(datum.value / 10 - round(datum.value / 10)) < 0.01 && datum.value < 84 ? datum.label : ''",
            "gridWidth": {"condition": {"test": "abs(datum.value / 10 - round(datum.value / 10)) > 0.01", "value": 0.6}, "value": 1.2},
            "tickOpacity": {"condition": {"test": "abs(datum.value / 10 - round(datum.value / 10)) > 0.01 || datum.value > 84", "value": 0}, "value": 1},
            "titlePadding": 6, "titleY": 205}}
      }
    }
  ]
}
}
